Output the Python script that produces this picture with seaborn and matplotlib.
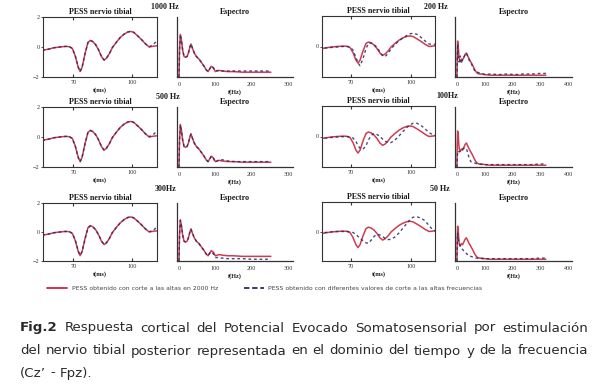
import numpy as np
import pandas as pd
import matplotlib
matplotlib.use("Agg")
import matplotlib.pyplot as plt
import seaborn as sns
from matplotlib.lines import Line2D

# ---------------- data ----------------
t_ms = [54, 57, 60, 63, 66, 68, 69.5, 71, 72.5, 73.5, 74.5, 76, 77.5, 78.7, 80, 81.5,
        83, 84.5, 85.8, 87, 88.5, 90, 92, 94, 96, 98, 99.5, 101, 103, 105, 107, 109,
        111, 113]
# reference PESS (2000 Hz cut-off)
pess_ref = [-0.22, -0.15, -0.05, 0.0, 0.04, 0.02, -0.1, -0.6, -1.35, -1.63, -1.35, -0.45,
            0.3, 0.44, 0.36, 0.15, -0.2, -0.65, -0.87, -0.75, -0.45, -0.05, 0.3, 0.62,
            0.85, 1.0, 1.04, 0.98, 0.75, 0.5, 0.22, 0.0, 0.05, 0.08]
pess_1000 = [-0.22, -0.15, -0.05, 0.0, 0.04, 0.02, -0.1, -0.6, -1.35, -1.63, -1.35, -0.45,
             0.3, 0.44, 0.36, 0.15, -0.2, -0.65, -0.87, -0.75, -0.45, -0.05, 0.3, 0.62,
             0.85, 1.0, 1.04, 0.98, 0.75, 0.5, 0.22, 0.02, 0.15, 0.43]
pess_500 = [-0.22, -0.15, -0.05, 0.0, 0.04, 0.02, -0.1, -0.62, -1.38, -1.65, -1.35, -0.45,
            0.3, 0.44, 0.36, 0.15, -0.2, -0.65, -0.88, -0.75, -0.45, -0.05, 0.3, 0.62,
            0.85, 1.0, 1.04, 0.98, 0.75, 0.5, 0.22, 0.02, 0.15, 0.4]
pess_300 = [-0.22, -0.15, -0.05, 0.0, 0.04, 0.02, -0.1, -0.55, -1.3, -1.6, -1.35, -0.5,
            0.25, 0.42, 0.36, 0.15, -0.2, -0.62, -0.85, -0.75, -0.45, -0.05, 0.3, 0.6,
            0.85, 1.0, 1.04, 0.98, 0.75, 0.5, 0.22, 0.02, 0.1, 0.35]
pess_200 = [-0.2, -0.15, -0.1, -0.05, 0.0, 0.0, -0.05, -0.35, -1.1, -1.6, -1.9, -1.2,
            -0.2, 0.3, 0.35, 0.2, -0.1, -0.55, -0.9, -1.0, -0.7, -0.25, 0.2, 0.55,
            0.85, 1.1, 1.25, 1.3, 1.2, 0.9, 0.55, 0.25, 0.2, 0.25]
pess_100 = [-0.2, -0.15, -0.1, -0.05, -0.02, -0.02, -0.05, -0.15, -0.5, -0.9, -1.15, -1.26,
            -0.9, -0.35, 0.1, 0.3, 0.2, 0.0, -0.25, -0.45, -0.6, -0.6, -0.35, 0.05,
            0.5, 0.9, 1.15, 1.3, 1.3, 1.1, 0.75, 0.4, 0.15, 0.05]
pess_50 = [-0.15, -0.1, -0.05, 0.0, 0.0, 0.0, -0.05, -0.1, -0.3, -0.5, -0.7, -0.95,
           -1.15, -1.2, -0.9, -0.5, -0.3, -0.35, -0.5, -0.7, -0.82, -0.8, -0.55, -0.15,
           0.35, 0.85, 1.2, 1.45, 1.5, 1.35, 1.1, 0.6, 0.15, 0.0]

# spectra, left column (0-300 Hz axis)
f_left = [0, 1.5, 3.7, 7, 10, 14, 18, 22, 26, 30, 33, 37, 42, 48, 55, 62, 69, 75, 80,
          85, 89, 95, 100, 105, 110, 120, 135, 150, 175, 200, 225, 253]
spec_ref_left = [0, 0.45, 0.71, 0.6, 0.45, 0.34, 0.33, 0.34, 0.4, 0.5, 0.55, 0.48, 0.4,
                 0.34, 0.3, 0.24, 0.18, 0.12, 0.09, 0.14, 0.18, 0.15, 0.09, 0.1, 0.11,
                 0.1, 0.09, 0.09, 0.08, 0.08, 0.08, 0.08]
spec_1000 = [0, 0.45, 0.71, 0.6, 0.45, 0.34, 0.33, 0.34, 0.4, 0.5, 0.55, 0.48, 0.4,
             0.34, 0.3, 0.24, 0.18, 0.12, 0.09, 0.14, 0.18, 0.15, 0.1, 0.11, 0.1,
             0.1, 0.1, 0.1, 0.1, 0.1, 0.1, 0.1]
spec_500 = [0, 0.45, 0.7, 0.6, 0.45, 0.34, 0.33, 0.34, 0.4, 0.5, 0.55, 0.48, 0.4,
            0.34, 0.3, 0.24, 0.18, 0.12, 0.09, 0.14, 0.18, 0.14, 0.08, 0.1, 0.12,
            0.12, 0.1, 0.09, 0.09, 0.09, 0.09, 0.09]
spec_300 = [0, 0.45, 0.7, 0.6, 0.45, 0.34, 0.33, 0.34, 0.4, 0.5, 0.55, 0.48, 0.4,
            0.34, 0.3, 0.24, 0.18, 0.12, 0.09, 0.14, 0.16, 0.12, 0.06, 0.06, 0.05,
            0.05, 0.04, 0.04, 0.04, 0.03, 0.03, 0.03]

# spectra, right column (0-400 Hz axis)
f_right = [0, 1, 2.5, 5, 8, 12, 16, 20, 25, 30, 34, 38, 44, 50, 56, 62, 68, 74, 80,
           90, 100, 120, 150, 180, 210, 240, 270, 300, 320]
spec_ref_right = [0, 0.35, 0.6, 0.5, 0.3, 0.26, 0.3, 0.28, 0.33, 0.38, 0.4, 0.36, 0.3,
                  0.25, 0.2, 0.14, 0.09, 0.06, 0.05, 0.05, 0.04, 0.03, 0.03, 0.03, 0.03,
                  0.03, 0.03, 0.03, 0.03]
spec_200 = [0, 0.2, 0.55, 0.3, 0.25, 0.35, 0.22, 0.3, 0.33, 0.38, 0.4, 0.35, 0.28,
            0.24, 0.18, 0.12, 0.08, 0.08, 0.07, 0.06, 0.04, 0.05, 0.04, 0.05, 0.04,
            0.05, 0.05, 0.06, 0.06]
spec_100 = [0, 0.15, 0.25, 0.27, 0.25, 0.27, 0.3, 0.3, 0.31, 0.32, 0.3, 0.25, 0.15,
            0.09, 0.08, 0.07, 0.06, 0.05, 0.05, 0.04, 0.04, 0.04, 0.04, 0.04, 0.04,
            0.04, 0.04, 0.05, 0.05]
spec_50 = [0, 0.3, 0.48, 0.38, 0.3, 0.25, 0.22, 0.2, 0.17, 0.15, 0.13, 0.11, 0.09,
           0.08, 0.07, 0.06, 0.05, 0.05, 0.05, 0.04, 0.04, 0.04, 0.04, 0.04, 0.04,
           0.04, 0.04, 0.05, 0.05]

cutoff_labels_left = ["1000 Hz", "500 Hz", "300Hz"]
cutoff_labels_right = ["200 Hz", "100Hz", "50 Hz"]
time_title = "PESS nervio tibial"
spec_title = "Espectro"
time_xlabel = "t(ms)"
spec_xlabel = "f(Hz)"
legend_labels = ["PESS obtenido con corte a las altas en 2000 Hz",
                 "PESS obtenido con diferentes valores de corte a las altas frecuencias"]
caption_lines = [
    "Respuesta cortical del Potencial Evocado Somatosensorial por estimulación",
    "del nervio tibial posterior representada en el dominio del tiempo y de la frecuencia",
    "(Cz’ - Fpz).",
]

# ---------------- style ----------------
sns.set_style("white")
plt.rcParams['font.family'] = ['Liberation Serif', 'DejaVu Serif']
W, H = 606, 389
fig = plt.figure(figsize=(W / 100, H / 100), dpi=100)
fig.patch.set_facecolor("white")

RED = "#c8283c"
BLUE = "#2a2a66"
AX = "#333333"
TXT = "#1a1a1a"
fs_small = 4.4
fs_title = 5.8

def px_axes(x0, y_top, x1, y_bot):
    return fig.add_axes([x0 / W, 1 - y_bot / H, (x1 - x0) / W, (y_bot - y_top) / H])

rows = [(17, 77), (107, 167), (203, 261)]
time_left_blue = [pess_1000, pess_500, pess_300]
time_right_blue = [pess_200, pess_100, pess_50]
spec_left_blue = [spec_1000, spec_500, spec_300]
spec_right_blue = [spec_200, spec_100, spec_50]

def time_panel(ax, blue, ylim, yticks, xlim):
    sns.lineplot(x=t_ms, y=pess_ref, ax=ax, color=RED, linewidth=1.1, alpha=0.9)
    sns.lineplot(x=t_ms, y=blue, ax=ax, color=BLUE, linewidth=1.0, linestyle=(0, (2, 2)),
                 alpha=0.85)
    ax.set_xlim(*xlim)
    ax.set_ylim(*ylim)
    ax.set_xticks([70, 100])
    ax.set_yticks(yticks)
    ax.tick_params(axis='x', direction='in', top=True, bottom=True, length=2.5,
                   width=0.8, labelsize=fs_small, pad=2, colors=AX)
    ax.tick_params(axis='y', direction='out', left=True, length=1.5, width=0.6,
                   labelsize=fs_small, pad=1, colors=AX)
    for s in ax.spines.values():
        s.set_color(AX)
        s.set_linewidth(0.8)
    ax.set_xlabel(time_xlabel, fontsize=fs_small, labelpad=2, color=TXT,
                  fontweight='bold')
    ax.set_ylabel("")
    ax.set_title(time_title, fontsize=fs_title, pad=2, color=TXT, fontweight='bold')
    ax.set_facecolor("white")

def spec_panel(ax, f, ref, blue, xlim, xticks):
    sns.lineplot(x=f, y=ref, ax=ax, color=RED, linewidth=1.1, alpha=0.9)
    sns.lineplot(x=f, y=blue, ax=ax, color=BLUE, linewidth=1.0, linestyle=(0, (2, 2)),
                 alpha=0.85)
    ax.set_xlim(*xlim)
    ax.set_ylim(0, 1.0)
    ax.set_xticks(xticks)
    ax.set_yticks([0.33, 0.66, 1.0])
    ax.set_yticklabels([])
    for side in ('top', 'right'):
        ax.spines[side].set_visible(False)
    for side in ('left', 'bottom'):
        ax.spines[side].set_color(AX)
        ax.spines[side].set_linewidth(0.9)
    ax.tick_params(axis='x', direction='inout', length=3, width=0.8,
                   labelsize=fs_small, pad=2, colors=AX)
    ax.tick_params(axis='y', direction='inout', length=3, width=0.8, colors=AX)
    ax.set_xlabel(spec_xlabel, fontsize=fs_small, labelpad=2, color=TXT,
                  fontweight='bold')
    ax.set_ylabel("")
    ax.set_title(spec_title, fontsize=fs_title, pad=2, color=TXT, fontweight='bold')
    ax.set_facecolor("white")

label_pos_left = [(165, 7), (168, 97), (166, 189)]
label_pos_right = [(436, 7), (447, 96), (440, 189)]

for i, (yt, yb) in enumerate(rows):
    ax = px_axes(43, yt, 157, yb)
    time_panel(ax, time_left_blue[i], (-2, 2), [-2, 0, 2], (54.4, 113))
    ax = px_axes(177, yt, 293, yb)
    spec_panel(ax, f_left, spec_ref_left, spec_left_blue[i], (-5.5, 314),
               [0, 100, 200, 300])
    ax = px_axes(322, yt - 1, 435, yb)
    time_panel(ax, time_right_blue[i], (-3, 3), [0], (55.5, 112))
    ax = px_axes(455, yt, 572, yb)
    spec_panel(ax, f_right, spec_ref_right, spec_right_blue[i], (-7, 414),
               [0, 100, 200, 300, 400])
    x, y = label_pos_left[i]
    fig.text(x / W, 1 - y / H, cutoff_labels_left[i], ha='center', va='center',
             fontsize=fs_title, fontweight='bold', color=TXT)
    x, y = label_pos_right[i]
    fig.text(x / W, 1 - y / H, cutoff_labels_right[i], ha='center', va='center',
             fontsize=fs_title, fontweight='bold', color=TXT)

# ---------------- legend ----------------
leg_fs = 4.4
h1 = [Line2D([], [], color=RED, linewidth=1.3)]
h2 = [Line2D([], [], color=BLUE, linewidth=1.3, linestyle=(0, (3, 1.5)))]
lg1 = fig.legend(h1, legend_labels[:1], loc='center left',
                 bbox_to_anchor=(47 / W, 1 - 288 / H), frameon=False,
                 handlelength=3.3, handletextpad=0.8,
                 borderpad=0, borderaxespad=0, prop={'family': 'DejaVu Sans', 'size': leg_fs})
lg2 = fig.legend(h2, legend_labels[1:], loc='center left',
                 bbox_to_anchor=(244 / W, 1 - 288 / H), frameon=False,
                 handlelength=3.3, handletextpad=0.6,
                 borderpad=0, borderaxespad=0, prop={'family': 'DejaVu Sans', 'size': leg_fs})
for lg in (lg1, lg2):
    for t in lg.get_texts():
        t.set_color("#444444")

# ---------------- caption (justified) ----------------
fig.canvas.draw()
renderer = fig.canvas.get_renderer()
X0, X1 = 20, 588
cap_y = [328, 351, 373]
CAPC = "#2a2a2a"

# choose the font size so that line 2 fills the width with ~5 px word gaps
probe_fs = 10.0
probe = [fig.text(0, 0, w, fontsize=probe_fs, family='DejaVu Sans')
         for w in caption_lines[1].split()]
probe_w = sum(p.get_window_extent(renderer).width for p in probe)
for p in probe:
    p.remove()
n_gaps = len(caption_lines[1].split()) - 1
cap_fs = probe_fs * (X1 - X0 - n_gaps * 5.0) / probe_w

def place_line(words, ypx, justify):
    texts = []
    for w, bold in words:
        t = fig.text(0, 1 - ypx / H, w, fontsize=cap_fs, family='DejaVu Sans',
                     fontweight='bold' if bold else 'normal', va='center', ha='left',
                     color=CAPC)
        texts.append(t)
    widths = [t.get_window_extent(renderer).width for t in texts]
    if justify and len(texts) > 1:
        gap = (X1 - X0 - sum(widths)) / (len(texts) - 1)
    else:
        gap = 0.32 * cap_fs * 100 / 72
    x = X0
    for t, w in zip(texts, widths):
        t.set_x(x / W)
        x += w + gap

line1 = [("Fig.2", True)] + [(w, False) for w in caption_lines[0].split()]
line2 = [(w, False) for w in caption_lines[1].split()]
line3 = [(w, False) for w in caption_lines[2].split()]
place_line(line1, cap_y[0], True)
place_line(line2, cap_y[1], True)
place_line(line3, cap_y[2], False)

fig.savefig("out.png", dpi=100, facecolor="white")
